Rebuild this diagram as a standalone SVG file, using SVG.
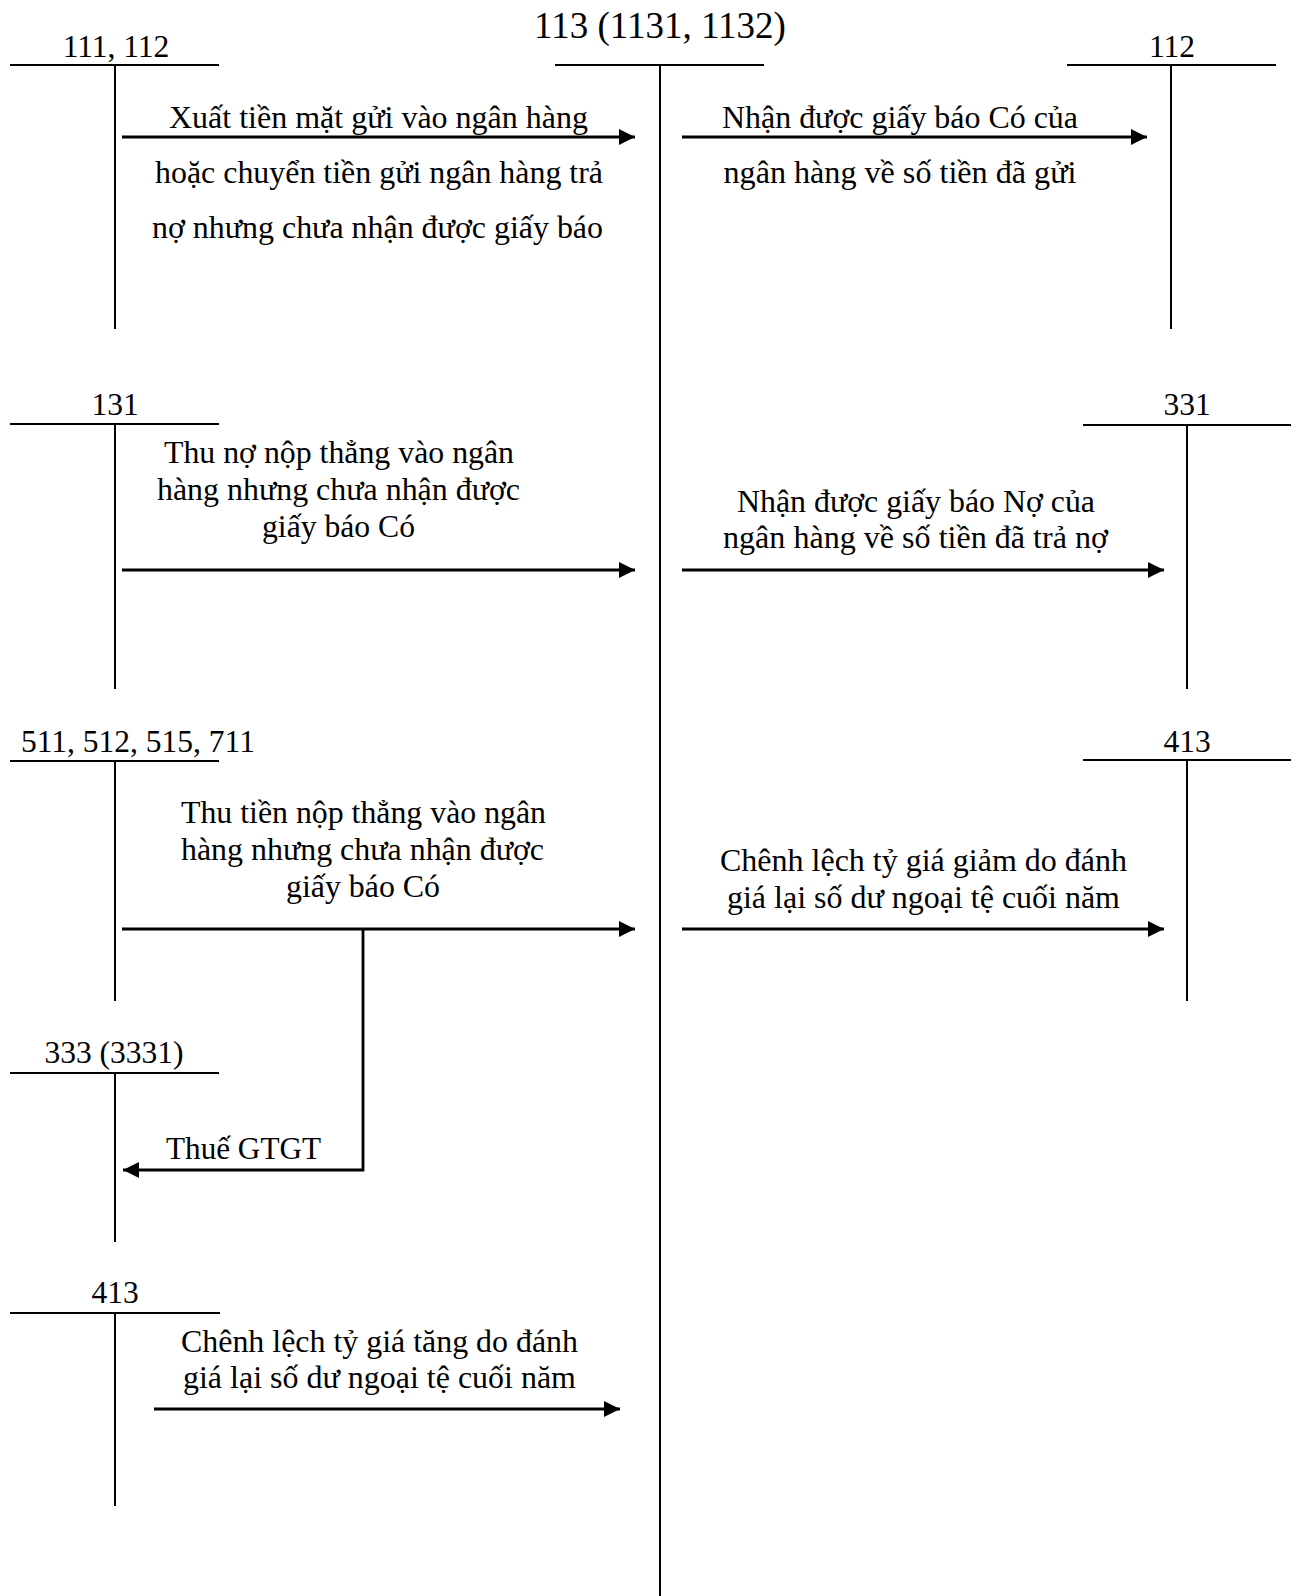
<svg xmlns="http://www.w3.org/2000/svg" width="1299" height="1596" viewBox="0 0 1299 1596">
<style>
text{font-family:"Liberation Serif","Times New Roman",serif;fill:#000}
.lbl{font-size:31.5px;text-anchor:middle}
.ttl{font-size:37px;text-anchor:middle}
.body{font-size:31px;text-anchor:middle}
.t{stroke:#000;stroke-width:2;fill:none}
.arr{stroke:#000;stroke-width:2.8;fill:none;marker-end:url(#ah)}
</style>
<defs>
<marker id="ah" markerUnits="userSpaceOnUse" markerWidth="17" markerHeight="16" refX="16" refY="8" orient="auto">
<path d="M0,0 L16,8 L0,16 z" fill="#000"/>
</marker>
</defs>
<rect width="1299" height="1596" fill="#fff"/>

<g id="acc-113">
<text class="ttl" x="660" y="38">113 (1131, 1132)</text>
<line class="t" x1="555" y1="65" x2="764" y2="65"/>
<line class="t" x1="660" y1="65" x2="660" y2="1596"/>
</g>
<g id="acc-111-112">
<text class="lbl" x="116" y="57">111, 112</text>
<line class="t" x1="10" y1="65" x2="219" y2="65"/>
<line class="t" x1="115" y1="65" x2="115" y2="329"/>
</g>
<g id="acc-112">
<text class="lbl" x="1172" y="57">112</text>
<line class="t" x1="1067" y1="65" x2="1276" y2="65"/>
<line class="t" x1="1171" y1="65" x2="1171" y2="329"/>
</g>
<g id="acc-131">
<text class="lbl" x="115" y="415">131</text>
<line class="t" x1="10" y1="424" x2="219" y2="424"/>
<line class="t" x1="115" y1="424" x2="115" y2="689"/>
</g>
<g id="acc-331">
<text class="lbl" x="1187" y="415">331</text>
<line class="t" x1="1083" y1="425" x2="1291" y2="425"/>
<line class="t" x1="1187" y1="425" x2="1187" y2="689"/>
</g>
<g id="acc-511">
<text class="lbl" x="138" y="752">511, 512, 515, 711</text>
<line class="t" x1="10" y1="761" x2="219" y2="761"/>
<line class="t" x1="115" y1="761" x2="115" y2="1001"/>
</g>
<g id="acc-413-right">
<text class="lbl" x="1187" y="752">413</text>
<line class="t" x1="1083" y1="760" x2="1291" y2="760"/>
<line class="t" x1="1187" y1="760" x2="1187" y2="1001"/>
</g>
<g id="acc-333">
<text class="lbl" x="114" y="1063">333 (3331)</text>
<line class="t" x1="10" y1="1073" x2="219" y2="1073"/>
<line class="t" x1="115" y1="1073" x2="115" y2="1242"/>
</g>
<g id="acc-413-left">
<text class="lbl" x="115" y="1303">413</text>
<line class="t" x1="10" y1="1313" x2="220" y2="1313"/>
<line class="t" x1="115" y1="1313" x2="115" y2="1506"/>
</g>

<g id="connectors">
<line class="arr" x1="122" y1="137" x2="635" y2="137"/>
<line class="arr" x1="682" y1="137" x2="1147" y2="137"/>
<line class="arr" x1="122" y1="570" x2="635" y2="570"/>
<line class="arr" x1="682" y1="570" x2="1164" y2="570"/>
<line class="arr" x1="122" y1="929" x2="635" y2="929"/>
<line class="arr" x1="682" y1="929" x2="1164" y2="929"/>
<polyline class="arr" points="363,929 363,1170 123,1170"/>
<line class="arr" x1="154" y1="1409" x2="620" y2="1409"/>
</g>

<g id="labels">
<text class="body" x="378.5" y="128" textLength="419" lengthAdjust="spacingAndGlyphs">Xuất tiền mặt gửi vào ngân hàng</text>
<text class="body" x="379" y="183" textLength="448" lengthAdjust="spacingAndGlyphs">hoặc chuyển tiền gửi ngân hàng trả</text>
<text class="body" x="377.5" y="238" textLength="451" lengthAdjust="spacingAndGlyphs">nợ nhưng chưa nhận được giấy báo</text>

<text class="body" x="900" y="128" textLength="356" lengthAdjust="spacingAndGlyphs">Nhận được giấy báo Có của</text>
<text class="body" x="900" y="183" textLength="353" lengthAdjust="spacingAndGlyphs">ngân hàng về số tiền đã gửi</text>

<text class="body" x="339" y="463" textLength="350" lengthAdjust="spacingAndGlyphs">Thu nợ nộp thẳng vào ngân</text>
<text class="body" x="338.5" y="500" textLength="363" lengthAdjust="spacingAndGlyphs">hàng nhưng chưa nhận được</text>
<text class="body" x="338.5" y="537" textLength="153" lengthAdjust="spacingAndGlyphs">giấy báo Có</text>

<text class="body" x="916" y="512" textLength="358" lengthAdjust="spacingAndGlyphs">Nhận được giấy báo Nợ của</text>
<text class="body" x="915.5" y="548" textLength="385" lengthAdjust="spacingAndGlyphs">ngân hàng về số tiền đã trả nợ</text>

<text class="body" x="363.5" y="823" textLength="365" lengthAdjust="spacingAndGlyphs">Thu tiền nộp thẳng vào ngân</text>
<text class="body" x="362.5" y="860" textLength="363" lengthAdjust="spacingAndGlyphs">hàng nhưng chưa nhận được</text>
<text class="body" x="363" y="897" textLength="154" lengthAdjust="spacingAndGlyphs">giấy báo Có</text>

<text class="body" x="923.5" y="871" textLength="407" lengthAdjust="spacingAndGlyphs">Chênh lệch tỷ giá giảm do đánh</text>
<text class="body" x="923.5" y="908" textLength="393" lengthAdjust="spacingAndGlyphs">giá lại số dư ngoại tệ cuối năm</text>

<text class="body" x="243.5" y="1159" textLength="155" lengthAdjust="spacingAndGlyphs">Thuế GTGT</text>

<text class="body" x="379.5" y="1352" textLength="397" lengthAdjust="spacingAndGlyphs">Chênh lệch tỷ giá tăng do đánh</text>
<text class="body" x="379.5" y="1388" textLength="393" lengthAdjust="spacingAndGlyphs">giá lại số dư ngoại tệ cuối năm</text>
</g>
</svg>
